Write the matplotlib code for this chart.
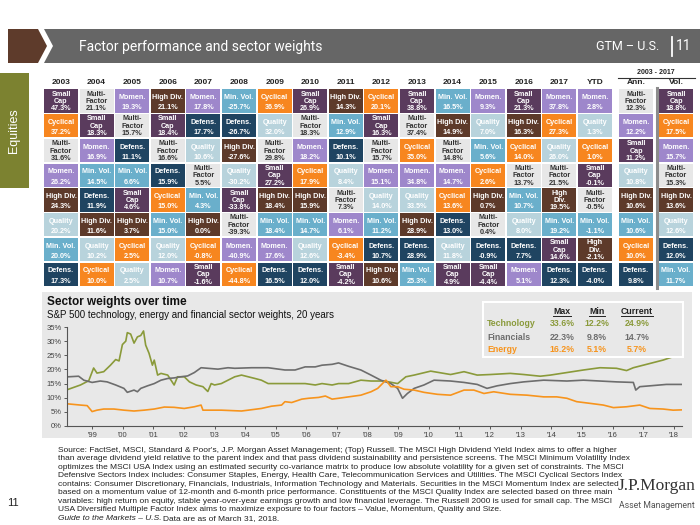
import matplotlib
matplotlib.use('Agg')
import matplotlib.pyplot as plt
from matplotlib.patches import Rectangle, Polygon
import numpy as np

plt.rcParams['font.family'] = ['Liberation Sans', 'DejaVu Sans']

# ---------------- data: factor table ----------------
columns = ['2003', '2004', '2005', '2006', '2007', '2008', '2009', '2010', '2011',
           '2012', '2013', '2014', '2015', '2016', '2017', 'YTD', 'Ann.', 'Vol.']

factor_order = [
    ['SC', 'CY', 'MF', 'MO', 'HD', 'QU', 'MV', 'DF'],
    ['MF', 'SC', 'MO', 'MV', 'DF', 'HD', 'QU', 'CY'],
    ['MO', 'MF', 'DF', 'MV', 'SC', 'HD', 'CY', 'QU'],
    ['HD', 'SC', 'MF', 'DF', 'CY', 'MV', 'QU', 'MO'],
    ['MO', 'DF', 'QU', 'MF', 'MV', 'HD', 'CY', 'SC'],
    ['MV', 'DF', 'HD', 'QU', 'SC', 'MF', 'MO', 'CY'],
    ['CY', 'QU', 'MF', 'SC', 'HD', 'MV', 'MO', 'DF'],
    ['SC', 'MF', 'MO', 'CY', 'HD', 'MV', 'QU', 'DF'],
    ['HD', 'MV', 'DF', 'QU', 'MF', 'MO', 'CY', 'SC'],
    ['CY', 'SC', 'MF', 'MO', 'QU', 'MV', 'DF', 'HD'],
    ['SC', 'MF', 'CY', 'MO', 'QU', 'HD', 'DF', 'MV'],
    ['MV', 'HD', 'MF', 'MO', 'CY', 'DF', 'QU', 'SC'],
    ['MO', 'QU', 'MV', 'CY', 'HD', 'MF', 'DF', 'SC'],
    ['SC', 'HD', 'CY', 'MF', 'MV', 'QU', 'DF', 'MO'],
    ['MO', 'CY', 'QU', 'MF', 'HD', 'MV', 'SC', 'DF'],
    ['MO', 'QU', 'CY', 'SC', 'MF', 'MV', 'HD', 'DF'],
    ['MF', 'MO', 'SC', 'QU', 'HD', 'MV', 'CY', 'DF'],
    ['SC', 'CY', 'MO', 'MF', 'HD', 'QU', 'DF', 'MV'],
]

returns_pct = [
    [47.3, 37.2, 31.6, 26.2, 24.3, 20.2, 20.0, 17.3],
    [21.1, 18.3, 16.9, 14.5, 11.9, 11.6, 10.2, 10.0],
    [19.3, 15.7, 11.1, 6.6, 4.6, 3.7, 2.5, 2.5],
    [21.1, 18.4, 16.6, 15.9, 15.0, 15.0, 12.0, 10.7],
    [17.8, 17.7, 10.6, 5.5, 4.3, 0.0, -0.8, -1.6],
    [-25.7, -26.7, -27.6, -30.2, -33.8, -39.3, -40.9, -44.8],
    [36.9, 32.0, 29.8, 27.2, 18.4, 18.4, 17.6, 16.5],
    [26.9, 18.3, 18.2, 17.9, 15.9, 14.7, 12.6, 12.0],
    [14.3, 12.9, 10.1, 8.4, 7.3, 6.1, -3.4, -4.2],
    [20.1, 16.3, 15.7, 15.1, 14.0, 11.2, 10.7, 10.6],
    [38.8, 37.4, 35.0, 34.8, 33.5, 28.9, 28.9, 25.3],
    [16.5, 14.9, 14.8, 14.7, 13.6, 13.0, 11.8, 4.9],
    [9.3, 7.0, 5.6, 2.6, 0.7, 0.4, -0.9, -4.4],
    [21.3, 16.3, 14.0, 13.7, 10.7, 8.0, 7.7, 5.1],
    [37.8, 27.3, 26.0, 21.5, 19.5, 19.2, 14.6, 12.3],
    [2.8, 1.3, 1.0, -0.1, -0.5, -1.1, -2.1, -4.0],
    [12.3, 12.2, 11.2, 10.8, 10.6, 10.6, 10.0, 9.8],
    [18.8, 17.5, 15.7, 15.3, 13.6, 12.6, 12.0, 11.7],
]

factor_labels = {'SC': ['Small', 'Cap'], 'MF': ['Multi-', 'Factor'], 'MO': ['Momen.'],
                 'HD': ['High Div.'], 'CY': ['Cyclical'], 'DF': ['Defens.'],
                 'QU': ['Quality'], 'MV': ['Min. Vol.']}

# ---------------- data: sector weights ----------------
tech_year = [1998.23, 1998.62, 1998.89, 1999.05, 1999.16, 1999.38, 1999.60, 1999.77, 1999.88, 1999.99,
             2000.10, 2000.15, 2000.26, 2000.37, 2000.48, 2000.59, 2000.68, 2000.75, 2000.86, 2000.97,
             2001.03, 2001.14, 2001.25, 2001.47, 2001.68, 2001.79, 2002.01, 2002.18, 2002.40, 2002.62,
             2002.78, 2002.89, 2003.00, 2003.22, 2003.44, 2003.66, 2003.88, 2004.10, 2004.32, 2004.53,
             2004.75, 2005.30, 2005.96, 2006.29, 2006.51, 2006.84, 2007.05, 2007.38, 2007.78, 2008.11,
             2008.54, 2008.98, 2009.25, 2009.52, 2010.06, 2010.71, 2011.15, 2011.58, 2012.01, 2012.66,
             2013.10, 2013.64, 2013.97, 2014.51, 2015.05, 2015.59, 2016.13, 2016.46, 2016.68, 2017.22,
             2017.65, 2017.98, 2018.25]
tech_val = [13.0, 14.5, 16.0, 20.5, 18.7, 19.2, 21.5, 23.5, 23.0, 28.8,
            30.0, 33.0, 32.5, 29.3, 31.5, 32.0, 33.6, 28.6, 25.7, 21.5,
            23.3, 18.0, 18.6, 18.0, 14.5, 17.4, 17.4, 15.6, 14.5, 13.9,
            12.2, 15.0, 14.5, 15.0, 16.2, 17.4, 18.0, 17.4, 16.8, 16.2,
            15.0, 15.0, 15.0, 14.5, 15.0, 14.5, 15.0, 15.0, 16.2, 15.9,
            15.9, 15.0, 17.4, 18.0, 19.4, 18.2, 19.2, 18.0, 18.2, 18.6,
            18.2, 17.6, 18.0, 18.9, 19.8, 20.6, 20.4, 19.6, 20.6, 22.1,
            23.3, 24.5, 24.9]

fin_year = [1998.23, 1998.56, 1998.73, 1999.00, 1999.27, 1999.49, 1999.77, 2000.04, 2000.15, 2000.37,
            2000.48, 2000.59, 2000.81, 2001.03, 2001.25, 2001.47, 2001.68, 2001.90, 2002.12, 2002.34,
            2002.56, 2002.78, 2003.11, 2003.44, 2003.66, 2004.21, 2004.75, 2005.30, 2005.63, 2005.96,
            2006.29, 2006.51, 2006.84, 2007.05, 2007.38, 2007.78, 2008.11, 2008.43, 2008.76, 2008.98,
            2009.14, 2009.30, 2009.52, 2009.84, 2010.17, 2010.71, 2011.15, 2011.58, 2011.90, 2012.23,
            2012.66, 2013.10, 2013.75, 2014.51, 2015.05, 2015.59, 2016.13, 2016.68, 2016.76, 2016.89,
            2017.22, 2017.76, 2018.25]
fin_val = [17.4, 17.6, 16.2, 15.4, 15.9, 15.6, 14.5, 13.3, 11.9, 12.7,
           12.1, 13.3, 14.2, 15.0, 16.2, 16.8, 17.0, 17.4, 17.7, 18.9,
           20.6, 20.4, 20.1, 20.6, 20.4, 20.6, 20.6, 19.8, 19.8, 20.9,
           20.9, 21.5, 21.8, 22.3, 21.1, 19.8, 18.0, 16.2, 15.0, 13.3,
           9.8, 11.5, 13.3, 14.5, 16.2, 15.9, 15.4, 14.7, 13.3, 14.2,
           15.0, 15.6, 16.2, 15.9, 16.2, 15.9, 15.6, 15.4, 12.7, 13.9,
           14.2, 14.7, 14.7]

energy_year = [1998.23, 1998.62, 1998.84, 1999.00, 1999.16, 1999.38, 1999.71, 2000.04, 2000.37, 2000.70,
               2001.03, 2001.36, 2001.68, 2002.01, 2002.34, 2002.56, 2002.62, 2002.89, 2003.22, 2003.66,
               2003.88, 2004.10, 2004.53, 2004.86, 2005.19, 2005.30, 2005.52, 2005.85, 2006.07, 2006.40,
               2006.62, 2006.84, 2007.05, 2007.38, 2007.78, 2008.11, 2008.33, 2008.54, 2008.60, 2008.76,
               2008.98, 2009.19, 2009.52, 2009.84, 2010.28, 2010.71, 2011.15, 2011.47, 2011.80, 2012.12,
               2012.66, 2013.21, 2013.75, 2014.18, 2014.51, 2014.83, 2015.27, 2015.70, 2016.03, 2016.46,
               2016.89, 2017.22, 2017.65, 2017.98, 2018.25]
energy_val = [7.8, 7.4, 7.2, 5.1, 5.6, 6.0, 6.0, 5.6, 5.3, 5.6,
              6.0, 6.7, 6.6, 6.2, 6.8, 7.4, 5.6, 5.6, 5.6, 5.4,
              5.3, 5.6, 6.2, 7.0, 7.4, 8.6, 8.3, 9.5, 9.8, 10.1,
              10.6, 9.5, 9.8, 10.3, 10.9, 12.1, 13.3, 15.6, 16.2, 13.9,
              13.9, 13.0, 12.7, 11.9, 11.2, 10.9, 12.7, 12.7, 11.5, 12.1,
              11.2, 10.9, 10.3, 10.3, 9.8, 8.6, 8.0, 7.4, 6.5, 6.8,
              7.4, 6.2, 6.0, 5.6, 5.7]

sector_names = ['Technology', 'Financials', 'Energy']
sector_max = [33.6, 22.3, 16.2]
sector_min = [12.2, 9.8, 5.1]
sector_current = [24.9, 14.7, 5.7]

year_ticks = list(range(1999, 2019))

footer_lines = [
    "Source: FactSet, MSCI, Standard & Poor's, J.P. Morgan Asset Management; (Top) Russell. The MSCI High Dividend Yield Index aims to offer a higher",
    "than average dividend yield relative to the parent index and that pass dividend sustainability and persistence screens. The MSCI Minimum Volatility Index",
    "optimizes the MSCI USA Index using an estimated security co-variance matrix to produce low absolute volatility for a given set of constraints. The MSCI",
    "Defensive Sectors Index includes: Consumer Staples, Energy, Health Care, Telecommunication Services and Utilities. The MSCI Cyclical Sectors Index",
    "contains: Consumer Discretionary, Financials, Industrials, Information Technology and Materials. Securities in the MSCI Momentum Index are selected",
    "based on a momentum value of 12-month and 6-month price performance. Constituents of the MSCI Quality Index are selected based on three main",
    "variables: high return on equity, stable year-over-year earnings growth and low financial leverage. The Russell 2000 is used for small cap. The MSCI",
    "USA Diversified Multiple Factor Index aims to maximize exposure to four factors \u2013 Value, Momentum, Quality and Size.",
]

# ---------------- styles ----------------
fill = {'SC': '#5A3B5D', 'MF': '#E7E7E7', 'MO': '#9E87CB', 'HD': '#5D3A2A',
        'CY': '#F7861F', 'DF': '#1F4461', 'QU': '#B8D3DC', 'MV': '#6AAFCB'}
TECH_C, FIN_C, EN_C = '#8A9A3A', '#6D6D6D', '#F7941D'
COND = ['Liberation Sans Narrow', 'Roboto']

W, H = 700, 525
fig = plt.figure(figsize=(7, 5.25), dpi=100)
fig.patch.set_facecolor('white')

bg = fig.add_axes([0, 0, 1, 1])
bg.set_xlim(0, W)
bg.set_ylim(H, 0)
bg.axis('off')

# header bar
bg.add_patch(Polygon([(8, 29), (38, 29), (47, 46), (38, 63), (8, 63)], closed=True, fc='#5E3B2B', ec='none'))
bg.add_patch(Polygon([(44, 29), (700, 29), (700, 63), (44, 63), (53, 46)], closed=True, fc='#666666', ec='none'))
bg.text(79, 46.5, 'Factor performance and sector weights', color='white', fontsize=10,
        family=COND, va='center', ha='left')
bg.text(659, 46.5, 'GTM \u2013 U.S.', color='white', fontsize=9,
        family=COND, va='center', ha='right')
bg.plot([671.5, 671.5], [37, 56], color='white', lw=1.3)
bg.text(684, 46.5, '11', color='white', fontsize=10,
        family=COND, va='center', ha='center')

# Equities tab
bg.add_patch(Rectangle((0, 73), 29, 115, fc='#7C8230', ec='none'))
bg.text(14, 130.5, 'Equities', rotation=90, color='white', fontsize=9, va='center', ha='center')

# lower panel
bg.add_patch(Rectangle((42, 292), 650, 146, fc='#E8E8E8', ec='none'))

# ---------------- factor table ----------------
x0, pitch, cw = 44.0, 35.6, 34.0
col_left = [x0 + i * pitch for i in range(16)] + [619.0, 659.0]
y0, rpitch, ch = 89.3, 24.75, 23.4

for j, col in enumerate(columns):
    cx = col_left[j] + cw / 2
    bg.text(cx, 83, col, fontsize=6, fontweight='bold', color='#222222', ha='center', va='center')
    for i, (f, v) in enumerate(zip(factor_order[j], returns_pct[j])):
        top = y0 + i * rpitch
        bg.add_patch(Rectangle((col_left[j], top), cw, ch, fc=fill[f], ec='none'))
        tc = '#333333' if f == 'MF' else 'white'
        lines = factor_labels[f]
        if f == 'HD' and col in ('2017', 'YTD'):
            lines = ['High', 'Div.']
        val = f'{v:.1f}%'
        if len(lines) == 1:
            bg.text(cx, top + 0.36 * ch, lines[0], fontsize=5.2, fontweight='bold', color=tc, ha='center', va='center')
            bg.text(cx, top + 0.79 * ch, val, fontsize=5.2, fontweight='bold', color=tc, ha='center', va='center')
        else:
            bg.text(cx, top + 0.21 * ch, lines[0], fontsize=5.2, fontweight='bold', color=tc, ha='center', va='center')
            bg.text(cx, top + 0.53 * ch, lines[1], fontsize=5.2, fontweight='bold', color=tc, ha='center', va='center')
            bg.text(cx, top + 0.84 * ch, val, fontsize=5.2, fontweight='bold', color=tc, ha='center', va='center')

bg.text(656, 73, '2003 - 2017', fontsize=5, fontweight='bold', color='#222222', ha='center', va='center')
bg.plot([618, 695], [77.5, 77.5], color='#333333', lw=0.8)
bg.plot([656.5, 656.5], [88, 288], color='#8C8C8C', lw=2.2)

# ---------------- sector weights chart ----------------
bg.text(47, 302, 'Sector weights over time', fontsize=8.5, fontweight='bold', color='#111111', va='center', ha='left')
bg.text(47, 315, 'S&P 500 technology, energy and financial sector weights, 20 years', fontsize=7,
        color='#111111', va='center', ha='left')

ax = fig.add_axes([67 / W, (H - 426) / H, 615 / W, 99 / H])
ax.set_facecolor('none')
ax.plot(tech_year, tech_val, color=TECH_C, lw=1.2)
ax.plot(fin_year, fin_val, color=FIN_C, lw=1.2)
ax.plot(energy_year, energy_val, color=EN_C, lw=1.2)
ax.set_xlim(1998.18, 2018.27)
ax.set_ylim(0, 35)
ax.set_yticks(range(0, 36, 5))
ax.set_yticklabels([f'{t}%' for t in range(0, 36, 5)])
ax.set_xticks(year_ticks)
ax.set_xticklabels([f"'{y % 100:02d}" for y in year_ticks])
for s in ['top', 'right']:
    ax.spines[s].set_visible(False)
for s in ['left', 'bottom']:
    ax.spines[s].set_color('#555555')
    ax.spines[s].set_linewidth(0.8)
ax.tick_params(axis='both', labelsize=5.5, colors='#444444', length=2, width=0.6, pad=2)

# overlay for legend and footer
top_ax = fig.add_axes([0, 0, 1, 1])
top_ax.set_xlim(0, W)
top_ax.set_ylim(H, 0)
top_ax.axis('off')
top_ax.set_facecolor('none')

top_ax.add_patch(Rectangle((483, 302), 200, 55, fc='#E8E8E8', ec='white', lw=1.5))
hdr_x = [562, 597, 637]
hdr_txt = []
for hx, ht in zip(hdr_x, ['Max', 'Min', 'Current']):
    hdr_txt.append(top_ax.text(hx, 311, ht, fontsize=6.3, fontweight='bold', color='#222222', ha='center', va='center'))
row_cols = [TECH_C, FIN_C, EN_C]
for k, name in enumerate(sector_names):
    yy = 324 + k * 13
    top_ax.text(487, yy, name, fontsize=6.3, fontweight='bold', color=row_cols[k], ha='left', va='center')
    for hx, vv in zip(hdr_x, [sector_max[k], sector_min[k], sector_current[k]]):
        top_ax.text(hx, yy, f'{vv:.1f}%', fontsize=6.3, fontweight='bold', color=row_cols[k], ha='center', va='center')

FS = 6.0
for k, line in enumerate(footer_lines):
    top_ax.text(58, 450 + k * 8.55, line, fontsize=FS, color='#222222', ha='left', va='center')
it = top_ax.text(58, 450 + 8 * 8.55, 'Guide to the Markets \u2013 U.S.', fontsize=FS, style='italic',
                 color='#222222', ha='left', va='center')

top_ax.text(13, 503, '11', fontsize=8, color='#222222', ha='center', va='center')
top_ax.text(657, 486, 'J.P.Morgan', fontsize=12.5, family=['Liberation Serif', 'DejaVu Serif'],
            color='#333333', ha='center', va='center')
top_ax.text(657, 506, 'Asset Management', fontsize=6.3, family=COND,
            color='#555555', ha='center', va='center')

# underline headers and continue footer after italic text
fig.canvas.draw()
r = fig.canvas.get_renderer()
for t in hdr_txt:
    bb = t.get_window_extent(r)
    top_ax.plot([bb.x0, bb.x1], [316, 316], color='#222222', lw=0.7)
bb = it.get_window_extent(r)
top_ax.text(bb.x1 + 1.5, 450 + 8 * 8.55, 'Data are as of March 31, 2018.', fontsize=FS,
            color='#222222', ha='left', va='center')

fig.savefig('out.png', dpi=100, facecolor='white')
